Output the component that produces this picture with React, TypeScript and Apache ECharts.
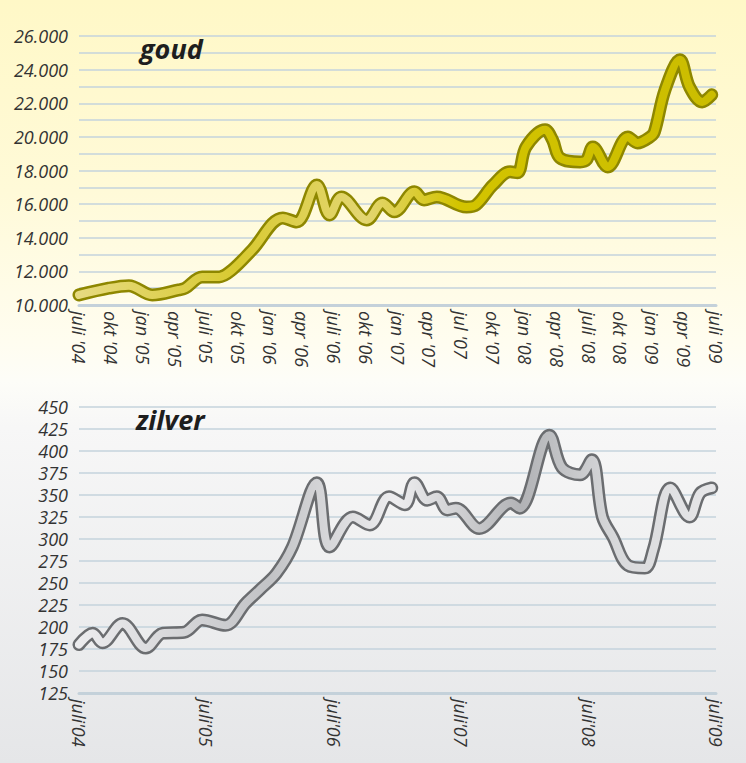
import React, { useEffect, useRef } from "react";
import * as echarts from "echarts";

const goldMonths = [0, 2.8, 4.7, 6.9, 9.4, 10, 11.6, 13.2, 14.4, 16.3, 19.2, 20.5, 22.4, 23.6, 24.7, 27.1, 28.6, 29.7, 31.6, 32.5, 33.7, 36.5, 37.4, 39, 40.6, 41.3, 42.1, 43.9, 44.6, 45.3, 47.2, 47.8, 48.4, 49.8, 51.7, 52.6, 53.8, 54.2, 55.2, 56.6, 57.5, 58.7, 59.6];
const goldValues = [10600, 11000, 11150, 10600, 10900, 11000, 11670, 11670, 12080, 13270, 15180, 14940, 17140, 15360, 16430, 15060, 16070, 15540, 16730, 16250, 16430, 15830, 15950, 17140, 17920, 17860, 19400, 20420, 19820, 18750, 18510, 18630, 19400, 18210, 20000, 19640, 20000, 20300, 22800, 24580, 22980, 22080, 22500];

const silverMonths = [0, 1.3, 2.2, 4.1, 6.3, 7.9, 9.9, 11.6, 13.8, 15.7, 17, 18.6, 20.1, 22.4, 23.6, 25.8, 27.4, 29.2, 30.7, 31.6, 32.8, 33.7, 34.7, 35.5, 37.7, 40.7, 41.5, 44.3, 45.5, 47.2, 48.3, 49.3, 50.3, 51.7, 53.3, 54.1, 55.7, 57.5, 58.5, 59.6];
const silverValues = [180, 193, 182, 204, 176, 193, 194, 208, 202, 227, 242, 261, 291, 364, 291, 325, 316, 348, 339, 364, 344, 348, 333, 335, 312, 341, 335, 418, 381, 373, 390, 325, 302, 270, 267, 288, 358, 325, 352, 358];

const goldTickLabels = ["juli '04", "okt '04", "jan '05", "apr '05", "juli '05", "okt '05", "jan '06", "apr '06", "juli '06", "okt '06", "jan '07", "apr '07", "jul '07", "okt '07", "jan '08", "apr '08", "juli '08", "okt '08", "jan '09", "apr '09", "juli '09"];
const silverTickLabels = ["juli'04", "juli'05", "juli'06", "juli'07", "juli'08", "juli'09"];

const FONT = "'Open Sans', sans-serif";

export default function App() {
  const ref = useRef<HTMLDivElement>(null);
  useEffect(() => {
    document.body.style.margin = "0";
    const chart = echarts.init(ref.current!, null, { renderer: "svg" });
    const labelStyle = {
      fontFamily: FONT,
      fontStyle: "italic" as const,
      fontSize: 18,
      color: "#333",
    };
    const gridLine = { lineStyle: { color: "#c4d3dd", width: 1.5 } };
    const xLine = { show: true, lineStyle: { color: "#c4d1da", width: 3 } };
    const goldData = goldMonths.map((m, i) => [m, goldValues[i]]);
    const silverData = silverMonths.map((m, i) => [m, silverValues[i]]);
    chart.setOption({
      animation: false,
      backgroundColor: "transparent",
      title: [
        {
          text: "goud",
          left: 135,
          top: 30,
          textStyle: { fontFamily: FONT, fontStyle: "italic", fontWeight: "bold", fontSize: 27, color: "#1e1e1e" },
        },
        {
          text: "zilver",
          left: 131,
          top: 401,
          textStyle: { fontFamily: FONT, fontStyle: "italic", fontWeight: "bold", fontSize: 27, color: "#1e1e1e" },
        },
      ],
      grid: [
        { left: 79, right: 30, top: 36, height: 269 },
        { left: 79, right: 30, top: 407, height: 286 },
      ],
      xAxis: [
        {
          gridIndex: 0,
          type: "value",
          min: 0,
          max: 60,
          interval: 3,
          axisLine: xLine,
          axisTick: { show: false },
          splitLine: { show: false },
          axisLabel: {
            ...labelStyle,
            rotate: -90,
            margin: 6,
            showMinLabel: true,
            showMaxLabel: true,
            formatter: (v: number) => goldTickLabels[Math.round(v / 3)] ?? "",
          },
        },
        {
          gridIndex: 1,
          type: "value",
          min: 0,
          max: 60,
          interval: 12,
          axisLine: xLine,
          axisTick: { show: false },
          splitLine: { show: false },
          axisLabel: {
            ...labelStyle,
            rotate: -90,
            margin: 6,
            showMinLabel: true,
            showMaxLabel: true,
            formatter: (v: number) => silverTickLabels[Math.round(v / 12)] ?? "",
          },
        },
      ],
      yAxis: [
        {
          gridIndex: 0,
          type: "value",
          min: 10000,
          max: 26000,
          interval: 1000,
          axisLine: { show: false },
          axisTick: { show: false },
          splitLine: gridLine,
          axisLabel: {
            ...labelStyle,
            margin: 11,
            formatter: (v: number) => (v % 2000 === 0 ? (v / 1000).toFixed(3) : ""),
          },
        },
        {
          gridIndex: 1,
          type: "value",
          min: 125,
          max: 450,
          interval: 25,
          axisLine: { show: false },
          axisTick: { show: false },
          splitLine: gridLine,
          axisLabel: { ...labelStyle, margin: 11 },
        },
      ],
      series: [
        {
          type: "line",
          xAxisIndex: 0,
          yAxisIndex: 0,
          data: goldData,
          smooth: 0.35,
          showSymbol: false,
          lineStyle: { color: "#8e8700", width: 13, cap: "round", join: "round" },
          z: 2,
        },
        {
          type: "line",
          xAxisIndex: 0,
          yAxisIndex: 0,
          data: goldData,
          smooth: 0.35,
          showSymbol: false,
          lineStyle: {
            width: 8,
            cap: "round",
            join: "round",
            color: new echarts.graphic.LinearGradient(0, 0, 1, 0, [
              { offset: 0, color: "#e6da80" },
              { offset: 0.25, color: "#d8ca30" },
              { offset: 0.45, color: "#e3d672" },
              { offset: 0.6, color: "#d3c400" },
              { offset: 1, color: "#cbbd00" },
            ]),
          },
          z: 3,
        },
        {
          type: "line",
          xAxisIndex: 1,
          yAxisIndex: 1,
          data: silverData,
          smooth: 0.35,
          showSymbol: false,
          lineStyle: { color: "#6b6d70", width: 13, cap: "round", join: "round" },
          z: 2,
        },
        {
          type: "line",
          xAxisIndex: 1,
          yAxisIndex: 1,
          data: silverData,
          smooth: 0.35,
          showSymbol: false,
          lineStyle: {
            width: 8,
            cap: "round",
            join: "round",
            color: new echarts.graphic.LinearGradient(0, 0, 1, 0, [
              { offset: 0, color: "#ececee" },
              { offset: 0.3, color: "#c2c3c6" },
              { offset: 0.5, color: "#ededef" },
              { offset: 0.7, color: "#b2b3b6" },
              { offset: 0.85, color: "#d8d9db" },
              { offset: 1, color: "#e6e6e8" },
            ]),
          },
          z: 3,
        },
      ],
    });
    return () => chart.dispose();
  }, []);
  return (
    <div
      style={{
        width: 746,
        height: 763,
        background:
          "linear-gradient(180deg, #fff8c7 0%, #fffad8 25%, #fffdf0 45%, #fdfdf8 50%, #f7f7f7 56%, #e5e6e8 100%)",
      }}
    >
      <div ref={ref} style={{ width: 746, height: 763 }} />
    </div>
  );
}
